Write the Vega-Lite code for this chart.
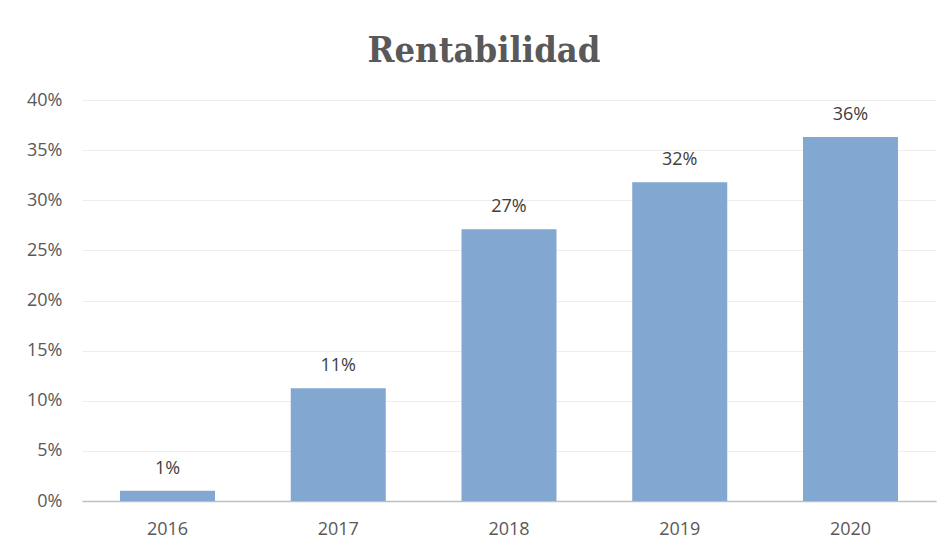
{
  "$schema": "https://vega.github.io/schema/vega-lite/v6.json",
  "width": 854,
  "height": 401,
  "autosize": {"type": "none"},
  "padding": {"left": 82, "top": 100, "right": 15, "bottom": 48},
  "background": "white",
  "title": {
    "text": "Rentabilidad",
    "font": "DejaVu Serif Condensed",
    "fontSize": 36,
    "fontWeight": "bold",
    "color": "#595959",
    "anchor": "middle",
    "dx": -25,
    "offset": 21
  },
  "data": {
    "values": [
      {"year": "2016", "value": 0.0103},
      {"year": "2017", "value": 0.1124},
      {"year": "2018", "value": 0.271},
      {"year": "2019", "value": 0.318},
      {"year": "2020", "value": 0.363}
    ]
  },
  "encoding": {
    "x": {
      "field": "year",
      "type": "nominal",
      "scale": {"paddingInner": 0.4436, "paddingOuter": 0.2226},
      "axis": {
        "title": null,
        "labelAngle": 0,
        "ticks": false,
        "domain": true,
        "domainColor": "#bfbfbf",
        "domainWidth": 1.5,
        "labelPadding": 19,
        "labelFont": "Open Sans",
        "labelFontSize": 18,
        "labelColor": "#595959"
      }
    },
    "y": {
      "field": "value",
      "type": "quantitative",
      "scale": {"domain": [0, 0.4], "nice": false},
      "axis": {
        "title": null,
        "values": [0, 0.05, 0.1, 0.15, 0.2, 0.25, 0.3, 0.35, 0.4],
        "format": ".0%",
        "ticks": false,
        "domain": false,
        "labelPadding": 20,
        "labelFont": "Open Sans",
        "labelFontSize": 18,
        "labelColor": "#595959",
        "gridColor": "#ededed",
        "gridWidth": 1
      }
    }
  },
  "layer": [
    {"mark": {"type": "bar", "color": "#82A7D1"}},
    {
      "mark": {
        "type": "text",
        "baseline": "bottom",
        "dy": -13,
        "font": "Open Sans",
        "fontSize": 18,
        "color": "#404040"
      },
      "encoding": {"text": {"field": "value", "format": ".0%"}}
    }
  ],
  "config": {"view": {"stroke": null}}
}
